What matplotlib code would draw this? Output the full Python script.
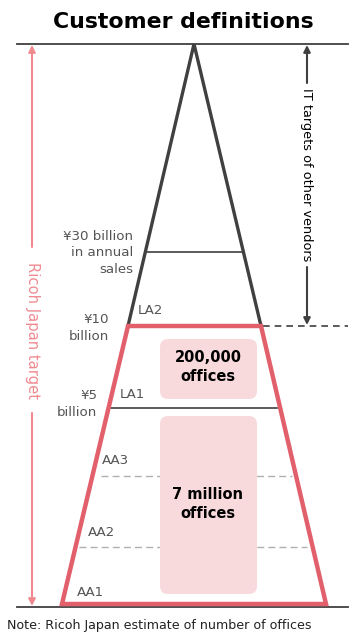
import matplotlib
matplotlib.use("Agg")
import matplotlib.pyplot as plt
from matplotlib.patches import FancyBboxPatch, Polygon

# ---- content ----
title = "Customer definitions"
threshold_labels = ["¥30 billion\nin annual\nsales", "¥10\nbillion", "¥5\nbillion"]
tier_labels = ["LA2", "LA1", "AA3", "AA2", "AA1"]
box_labels = ["200,000\noffices", "7 million\noffices"]
left_arrow_label = "Ricoh Japan target"
right_arrow_label = "IT targets of other vendors"
note = "Note: Ricoh Japan estimate of number of offices"

DARK = "#404040"
GRAY = "#555555"
RED = "#e2606c"
PINK_BOX = "#f8dadd"
PINK = "#f08a90"

fig = plt.figure(figsize=(3.55, 6.35), dpi=100)
ax = fig.add_axes([0, 0, 1, 1])
ax.set_xlim(0, 355)
ax.set_ylim(635, 0)
ax.axis("off")

# title
ax.text(183, 22, title, ha="center", va="center", fontsize=15.8, fontweight="bold", color="black")

# horizontal base lines
ax.plot([17, 348], [44, 44], color=DARK, lw=1.3)
ax.plot([17, 348], [607, 607], color=DARK, lw=1.3)

# triangle upper part
ax.plot([128, 194, 261], [326, 44, 326], color=DARK, lw=2.4, solid_joinstyle="miter")
ax.plot([147, 242], [252, 252], color=DARK, lw=1.2)

# pink boxes
for (x0, y0, x1, y1) in [(160, 339, 257, 399), (160, 416, 257, 594)]:
    ax.add_patch(FancyBboxPatch((x0 + 8, y0 + 8), x1 - x0 - 16, y1 - y0 - 16,
                                boxstyle="round,pad=8", fc=PINK_BOX, ec="none", zorder=1))

# dashed gray lines
ax.plot([101, 292], [476, 476], color="#b0b0b0", lw=1.0, ls=(0, (5, 3)), zorder=0.5)
ax.plot([79, 307], [547, 547], color="#b0b0b0", lw=1.0, ls=(0, (5, 3)), zorder=0.5)

# line at ¥5 billion
ax.plot([111, 277], [408, 408], color=DARK, lw=1.2, zorder=2)

# red trapezoid
ax.add_patch(Polygon([[128, 326], [261, 326], [326, 604], [62, 604]], closed=True,
                     fill=False, ec=RED, lw=3.2, joinstyle="miter", zorder=3))

# dashed dark line to right
ax.plot([263, 348], [326, 326], color=DARK, lw=1.2, ls=(0, (4, 3)))

# box texts
ax.text(208, 367, box_labels[0], ha="center", va="center", fontsize=10.5, fontweight="bold",
        linespacing=1.3, zorder=4)
ax.text(208, 504, box_labels[1], ha="center", va="center", fontsize=10.5, fontweight="bold",
        linespacing=1.3, zorder=4)

# threshold labels
ax.text(133, 253, threshold_labels[0], ha="right", va="center", fontsize=9.6, color=GRAY, linespacing=1.35)
ax.text(109, 328, threshold_labels[1], ha="right", va="center", fontsize=9.6, color=GRAY, linespacing=1.35)
ax.text(97, 404, threshold_labels[2], ha="right", va="center", fontsize=9.6, color=GRAY, linespacing=1.35)

# tier labels
tier_pos = [(138, 310), (120, 394), (102, 460), (88, 533), (77, 593)]
for lab, (x, y) in zip(tier_labels, tier_pos):
    ax.text(x, y, lab, ha="left", va="center", fontsize=9.6, color=GRAY)

# left pink arrow
ax.annotate("", xy=(32, 45), xytext=(32, 247),
            arrowprops=dict(arrowstyle="-|>", color=PINK, lw=1.5, mutation_scale=10, shrinkA=0, shrinkB=0))
ax.annotate("", xy=(32, 606), xytext=(32, 413),
            arrowprops=dict(arrowstyle="-|>", color=PINK, lw=1.5, mutation_scale=10, shrinkA=0, shrinkB=0))
ax.text(32, 330, left_arrow_label, ha="center", va="center", rotation=-90, fontsize=10.6,
        color=PINK)

# right dark arrow
ax.annotate("", xy=(307, 45), xytext=(307, 83),
            arrowprops=dict(arrowstyle="-|>", color=DARK, lw=1.5, mutation_scale=10, shrinkA=0, shrinkB=0))
ax.annotate("", xy=(307, 325), xytext=(307, 267),
            arrowprops=dict(arrowstyle="-|>", color=DARK, lw=1.5, mutation_scale=10, shrinkA=0, shrinkB=0))
ax.text(307, 175, right_arrow_label, ha="center", va="center", rotation=-90, fontsize=9.3, color="black")

# note
ax.text(7, 625, note, ha="left", va="center", fontsize=9.1, color="#222222")

fig.savefig("out.png", dpi=100)
